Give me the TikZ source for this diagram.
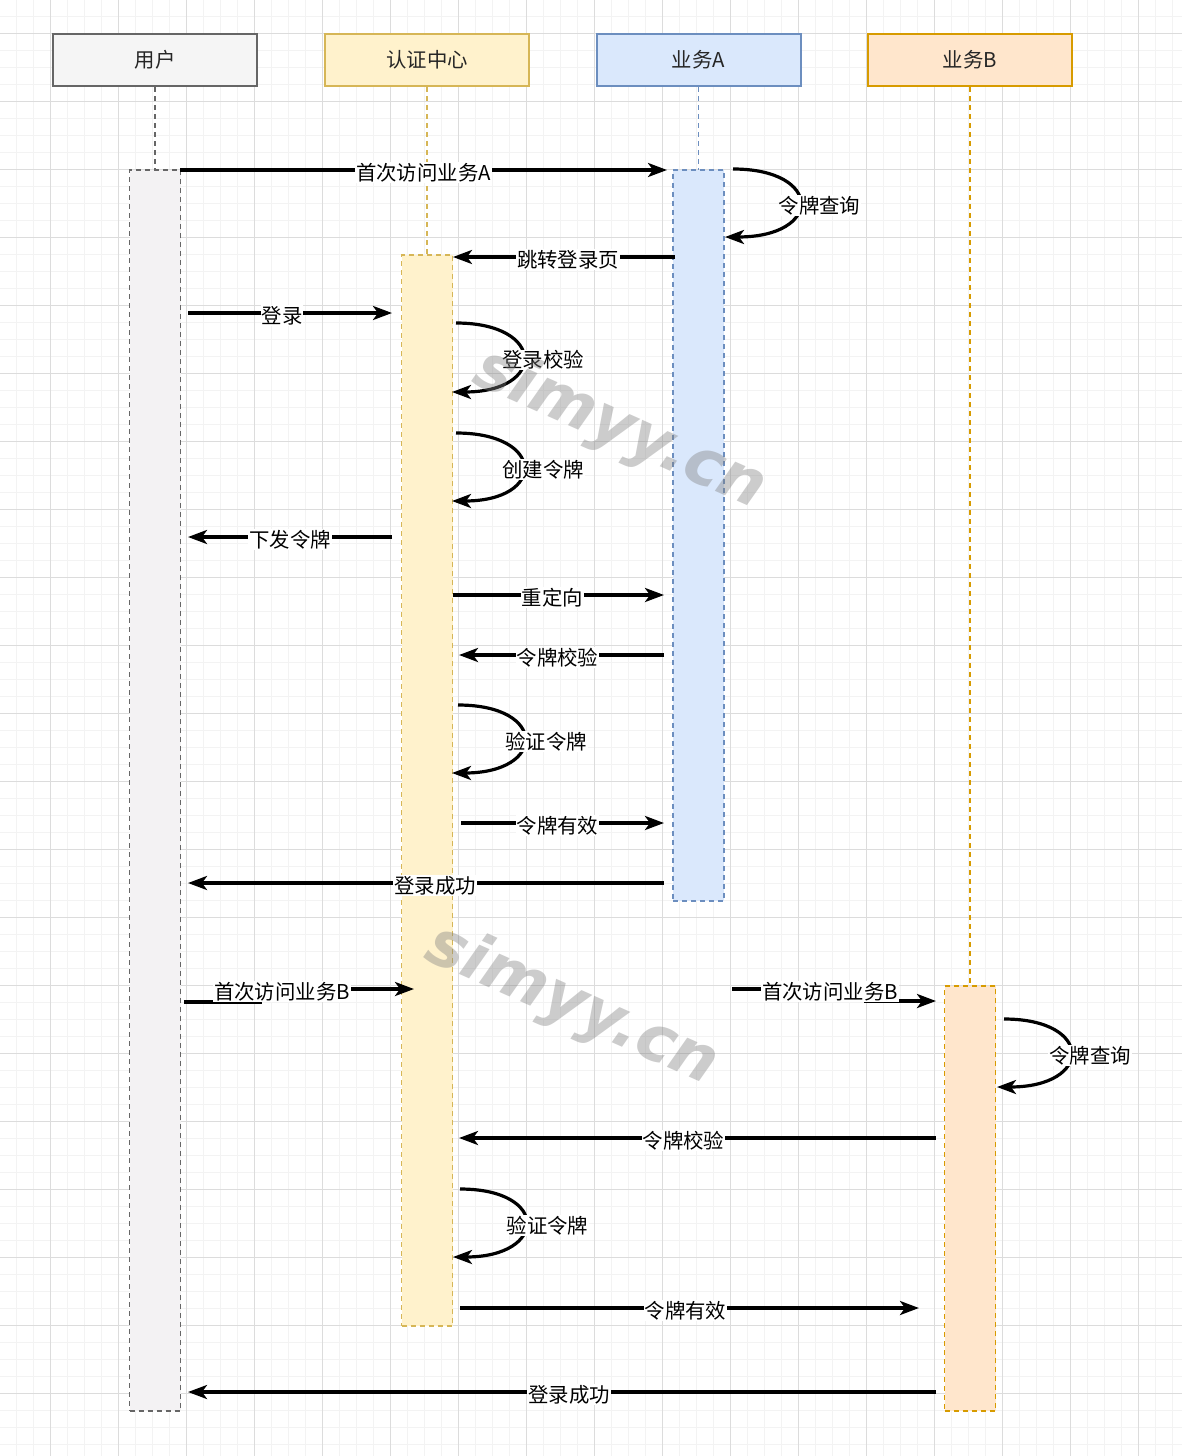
\documentclass[tikz,border=0pt]{standalone}
\usepackage{fontspec}
\setmainfont{Noto Sans CJK SC}
\newfontfamily\wmfont{DejaVu Sans}
\usetikzlibrary{arrows.meta}

\definecolor{userfill}{HTML}{F5F5F5}
\definecolor{userbarfill}{HTML}{F3F2F3}
\definecolor{userline}{HTML}{666666}
\definecolor{authfill}{HTML}{FFF2CC}
\definecolor{authline}{HTML}{D6B656}
\definecolor{afill}{HTML}{DAE8FC}
\definecolor{aline}{HTML}{6C8EBF}
\definecolor{bfill}{HTML}{FFE6CC}
\definecolor{bline}{HTML}{D79B00}
\definecolor{gridmajor}{HTML}{DCDCDC}
\definecolor{gridminor}{HTML}{F3F3F3}

\tikzstyle{actor} = [
rectangle,
minimum width=204pt,
minimum height=52pt,
line width=2pt,
text=black!85,
font=\fontsize{20.4}{24}\selectfont
]
\tikzstyle{lifeline} = [
line width=1.6pt,
dash pattern=on 5pt off 4pt
]
\tikzstyle{bar} = [
rectangle,
anchor=north west,
minimum width=51pt,
inner sep=0pt,
outer sep=0pt,
line width=1.6pt,
dash pattern=on 5pt off 4pt
]
\tikzstyle{msg} = [
line width=3.2pt,
-{Stealth[length=19pt,width=14pt,inset=5pt]}
]
\tikzstyle{msglabel} = [
fill=white,
inner sep=1pt,
yshift=-2.5pt,
font=\fontsize{20.4}{24}\selectfont
]
\tikzstyle{watermark} = [
text=black!50,
opacity=0.4,
rotate=-24,
font=\wmfont\bfseries\itshape\fontsize{64}{72}\selectfont
]

\begin{document}
\begin{tikzpicture}[
x=1pt,
y=-1pt
]

\useasboundingbox (0,0) rectangle (1182,1456);
\fill [white] (0,0) rectangle (1182,1456);

% grid
\foreach \gx in {-0.5,16.5,...,1190}
  \draw [gridminor, line width=0.8pt] (\gx,0) -- (\gx,1456);
\foreach \gy in {-1,16,...,1460}
  \draw [gridminor, line width=0.8pt] (0,\gy) -- (1182,\gy);
\foreach \gx in {50.5,118.5,...,1190}
  \draw [gridmajor, line width=1pt] (\gx,0) -- (\gx,1456);
\foreach \gy in {33,101,...,1460}
  \draw [gridmajor, line width=1pt] (0,\gy) -- (1182,\gy);

% participants
\node (user) [actor, fill=userfill, draw=userline] at (155,60) {用户};

\node (auth) [actor, fill=authfill, draw=authline] at (427,60) {认证中心};

\node (svcA) [actor, fill=afill, draw=aline] at (698.5,60) {业务A};

\node (svcB) [actor, fill=bfill, draw=bline] at (970,60) {业务B};

% activation bars
\node (userbar) [bar, fill=userbarfill, draw=userline,
minimum height=1241pt] at (129.5,170) {};

\node (authbar) [bar, fill=authfill, draw=authline,
minimum height=1071pt] at (401.5,255) {};

\node (Abar) [bar, fill=afill, draw=aline,
minimum height=731pt] at (673,170) {};

\node (Bbar) [bar, fill=bfill, draw=bline,
minimum height=425pt] at (944.5,986) {};

\draw [lifeline, draw=userline] (user.south) -- (userbar.north);

\draw [lifeline, draw=authline] (auth.south) -- (authbar.north);

\draw [lifeline, draw=aline] (svcA.south) -- (Abar.north);

\draw [lifeline, draw=bline] (svcB.south) -- (Bbar.north);

% message end points
\coordinate (m1s) at (180,170);
\coordinate (m1e) at (667,170);
\coordinate (q1s) at (733,169);
\coordinate (q1e) at (725,237);
\coordinate (m2s) at (675,257);
\coordinate (m2e) at (453,257);
\coordinate (m3s) at (188,313);
\coordinate (m3e) at (392,313);
\coordinate (q2s) at (456,323);
\coordinate (q2e) at (452,392);
\coordinate (q3s) at (456,433);
\coordinate (q3e) at (452,501);
\coordinate (m4s) at (392,537);
\coordinate (m4e) at (188,537);
\coordinate (m5s) at (453,595);
\coordinate (m5e) at (664,595);
\coordinate (m6s) at (664,655);
\coordinate (m6e) at (459,655);
\coordinate (q4s) at (458,705);
\coordinate (q4e) at (452,773);
\coordinate (m7s) at (461,823);
\coordinate (m7e) at (664,823);
\coordinate (m8s) at (664,883);
\coordinate (m8e) at (188,883);
\coordinate (m9s) at (184,1002);
\coordinate (m9e) at (414,989);
\coordinate (m10s) at (732,989);
\coordinate (m10e) at (936,1001);
\coordinate (q5s) at (1004,1019);
\coordinate (q5e) at (997,1087);
\coordinate (m11s) at (936,1138);
\coordinate (m11e) at (459,1138);
\coordinate (q6s) at (460,1189);
\coordinate (q6e) at (453,1257);
\coordinate (m12s) at (460,1308);
\coordinate (m12e) at (919,1308);
\coordinate (m13s) at (936,1392);
\coordinate (m13e) at (188,1392);

% messages
\draw [msg] (m1s) -- node[msglabel] {首次访问业务A} (m1e);

\draw [msg] (q1s) .. controls +(90,0) and +(98,0) .. node[msglabel, xshift=20pt] {令牌查询} (q1e);

\draw [msg] (m2s) -- node[msglabel, xshift=4pt] {跳转登录页} (m2e);

\draw [msg] (m3s) -- node[msglabel, xshift=-8pt] {登录} (m3e);

\draw [msg] (q2s) .. controls +(90,0) and +(94,0) .. node[msglabel, xshift=20pt] {登录校验} (q2e);

\draw [msg] (q3s) .. controls +(90,0) and +(94,0) .. node[msglabel, xshift=20pt] {创建令牌} (q3e);

\draw [msg] (m4s) -- node[msglabel] {下发令牌} (m4e);

\draw [msg] (m5s) -- node[msglabel, xshift=-6pt] {重定向} (m5e);

\draw [msg] (m6s) -- node[msglabel, xshift=-4pt] {令牌校验} (m6e);

\draw [msg] (q4s) .. controls +(90,0) and +(94,0) .. node[msglabel, xshift=22pt] {验证令牌} (q4e);

\draw [msg] (m7s) -- node[msglabel, xshift=-5pt] {令牌有效} (m7e);

\draw [msg] (m8s) -- node[msglabel, xshift=9pt] {登录成功} (m8e);

\draw [msg] (m9s) -- ++(76,0) |- (m9e);
\node (m9label) [msglabel] at (282,989) {首次访问业务B};

\draw [msg] (m10s) -- ++(134,0) |- (m10e);
\node (m10label) [msglabel] at (830,989) {首次访问业务B};

\draw [msg] (q5s) .. controls +(90,0) and +(96,0) .. node[msglabel, xshift=20pt] {令牌查询} (q5e);

\draw [msg] (m11s) -- node[msglabel, xshift=-14pt] {令牌校验} (m11e);

\draw [msg] (q6s) .. controls +(90,0) and +(94,0) .. node[msglabel, xshift=22pt] {验证令牌} (q6e);

\draw [msg] (m12s) -- node[msglabel, xshift=-4pt] {令牌有效} (m12e);

\draw [msg] (m13s) -- node[msglabel, xshift=7pt] {登录成功} (m13e);

% watermarks
\node (wm1) [watermark] at (620,430) {simyy.cn};

\node (wm2) [watermark] at (572,1006) {simyy.cn};

\end{tikzpicture}
\end{document}
